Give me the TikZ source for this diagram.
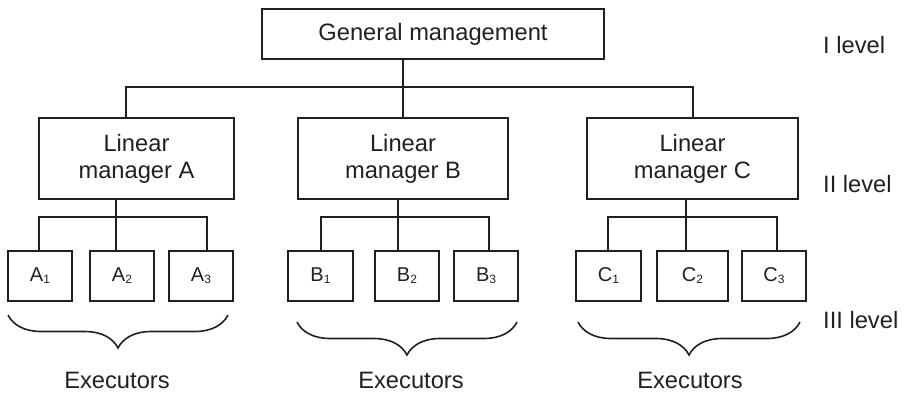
\documentclass[tikz,border=0pt]{standalone}
\usepackage{fontspec}
\setmainfont{Liberation Sans}
\usetikzlibrary{decorations.pathreplacing}
\definecolor{ink}{HTML}{231F20}
\newcommand{\execlbl}[2]{#1\raisebox{-2pt}{\fontsize{12}{12}\selectfont #2}}
\begin{document}
\begin{tikzpicture}[x=1pt,y=-1pt,
  every node/.style={text=ink},
  box/.style={draw=ink, line width=1.7pt, inner sep=0pt, align=center,
              font=\fontsize{23.7}{27}\selectfont},
  execbox/.style={draw=ink, line width=1.7pt, inner sep=0pt,
              minimum height=50pt, font=\fontsize{20}{20}\selectfont},
  wire/.style={draw=ink, line width=1.7pt},
  brc/.style={draw=ink, line width=1.6pt, decorate,
              decoration={brace, amplitude=33pt, mirror}},
  lbl/.style={font=\fontsize{23.7}{27}\selectfont, inner sep=0pt}]
\useasboundingbox (0,0) rectangle (904,392);

% level I
\node[box, minimum width=342pt, minimum height=50pt] (gm) at (433,34) {General management};

% level II
\node[box, minimum width=195pt, minimum height=81pt] (mA) at (136.5,158.5) {Linear\\manager A};
\node[box, minimum width=210pt, minimum height=81pt] (mB) at (403,158.5) {Linear\\manager B};
\node[box, minimum width=211pt, minimum height=81pt] (mC) at (692.5,158.5) {Linear\\manager C};

% level III
\node[execbox, minimum width=64pt] (A1) at (40,276) {\execlbl{A}{1}};
\node[execbox, minimum width=64pt] (A2) at (122,276) {\execlbl{A}{2}};
\node[execbox, minimum width=64pt] (A3) at (201,276) {\execlbl{A}{3}};
\node[execbox, minimum width=65pt] (B1) at (320.5,276) {\execlbl{B}{1}};
\node[execbox, minimum width=64pt] (B2) at (407,276) {\execlbl{B}{2}};
\node[execbox, minimum width=64pt] (B3) at (486,276) {\execlbl{B}{3}};
\node[execbox, minimum width=65pt] (C1) at (608.5,276) {\execlbl{C}{1}};
\node[execbox, minimum width=71pt] (C2) at (692.5,276) {\execlbl{C}{2}};
\node[execbox, minimum width=64pt] (C3) at (774,276) {\execlbl{C}{3}};

% bus coordinates
\coordinate (tA) at (126,87);
\coordinate (tC) at (693,87);
\coordinate (bA1) at (39,217);  \coordinate (bA2) at (116,217); \coordinate (bA3) at (207,217);
\coordinate (bB1) at (321,217); \coordinate (bB2) at (398,217); \coordinate (bB3) at (489,217);
\coordinate (bC1) at (608,217); \coordinate (bC2) at (686,217); \coordinate (bC3) at (777,217);

% top-level connectors
\draw[wire] (gm.south -| mB.north) -- (mB.north);
\draw[wire] (mA.north -| tA) -- (tA) -- (tC) -- (mC.north -| tC);

% manager-to-executor connectors
\draw[wire] (A1.north -| bA1) -- (bA1) -- (bA3) -- (A3.north -| bA3);
\draw[wire] (mA.south -| bA2) -- (A2.north -| bA2);
\draw[wire] (B1.north -| bB1) -- (bB1) -- (bB3) -- (B3.north -| bB3);
\draw[wire] (mB.south -| bB2) -- (B2.north -| bB2);
\draw[wire] (C1.north -| bC1) -- (bC1) -- (bC3) -- (C3.north -| bC3);
\draw[wire] (mC.south -| bC2) -- (C2.north -| bC2);

% braces grouping the executors
\coordinate (brA1) at (8,315);   \coordinate (brA2) at (228,315);
\coordinate (brB1) at (297,322); \coordinate (brB2) at (517,322);
\coordinate (brC1) at (578,322); \coordinate (brC2) at (800,322);
\draw[brc] (brA1) -- (brA2);
\draw[brc] (brB1) -- (brB2);
\draw[brc] (brC1) -- (brC2);

\node[lbl, anchor=base] (exA) at (117,388) {Executors};
\node[lbl, anchor=base] (exB) at (411,388) {Executors};
\node[lbl, anchor=base] (exC) at (690,388) {Executors};

% level labels
\node[lbl, anchor=base west] (lv1) at (823,53) {I level};
\node[lbl, anchor=base west] (lv2) at (823,192) {II level};
\node[lbl, anchor=base west] (lv3) at (823,328) {III level};
\end{tikzpicture}
\end{document}
